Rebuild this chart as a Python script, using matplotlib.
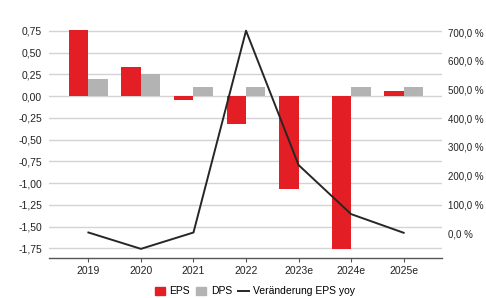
import numpy as np
import matplotlib.pyplot as plt
from matplotlib.ticker import FuncFormatter
from matplotlib.lines import Line2D
from matplotlib.patches import Patch

plt.rcParams['font.family'] = ['Liberation Sans', 'DejaVu Sans']

years = ['2019', '2020', '2021', '2022', '2023e', '2024e', '2025e']
eps = [0.76, 0.335, -0.04, -0.325, -1.065, -1.76, 0.06]
dps = [0.20, 0.25, 0.10, 0.10, 0.0, 0.10, 0.10]
eps_yoy = [2, -55, 2, 705, 237, 66, 1]

red = '#e31e24'
grey = '#b3b3b3'
dark = '#262626'

fig = plt.figure(figsize=(4.86, 2.98), dpi=100)
ax = fig.add_axes([0.1008, 0.134, 0.8087, 0.832])
ax2 = ax.twinx()

x = np.arange(len(years))
w = 0.37
ax.bar(x - w / 2, eps, w, color=red, zorder=3)
ax.bar(x + w / 2, dps, w, color=grey, zorder=3)
ax2.plot(x, eps_yoy, color=dark, lw=1.4, zorder=4)

ax.set_xlim(-0.75, 6.73)
ax.set_ylim(-1.863, 0.99)
ax2.set_ylim(-87.1, 776.7)

ax.set_yticks(np.arange(-1.75, 0.76, 0.25))
ax.yaxis.set_major_formatter(FuncFormatter(lambda v, p: f'{v:.2f}'.replace('.', ',')))
ax2.set_yticks(np.arange(0, 701, 100))
ax2.yaxis.set_major_formatter(FuncFormatter(lambda v, p: f'{v:.1f} %'.replace('.', ',')))

ax.grid(axis='y', color='#d3d3d3', lw=1.0, zorder=0)
ax.set_axisbelow(True)
ax.set_xticks(x)
ax.set_xticklabels(years)

for a in (ax, ax2):
    for s in ('top', 'left', 'right', 'bottom'):
        a.spines[s].set_visible(False)
ax.spines['bottom'].set_visible(True)
ax.spines['bottom'].set_color('#555555')
ax.spines['bottom'].set_linewidth(1.0)

ax.tick_params(axis='y', length=0, labelsize=7.5, pad=5, colors='#222222')
ax2.tick_params(axis='y', length=0, labelsize=7, pad=4, colors='#222222')
ax.tick_params(axis='x', length=3, width=0.8, color='#555555', labelsize=7.5, pad=3,
               labelcolor='#222222')

handles = [Patch(color=red, label='EPS'),
           Patch(color=grey, label='DPS'),
           Line2D([], [], color=dark, lw=1.4, label='Veränderung EPS yoy')]
fig.legend(handles=handles, loc='center', bbox_to_anchor=(0.524, 0.022), ncol=3,
           frameon=False, fontsize=7.5, handlelength=1.0, handleheight=0.8,
           handletextpad=0.4, columnspacing=0.6)

fig.savefig('out.png', dpi=100)
